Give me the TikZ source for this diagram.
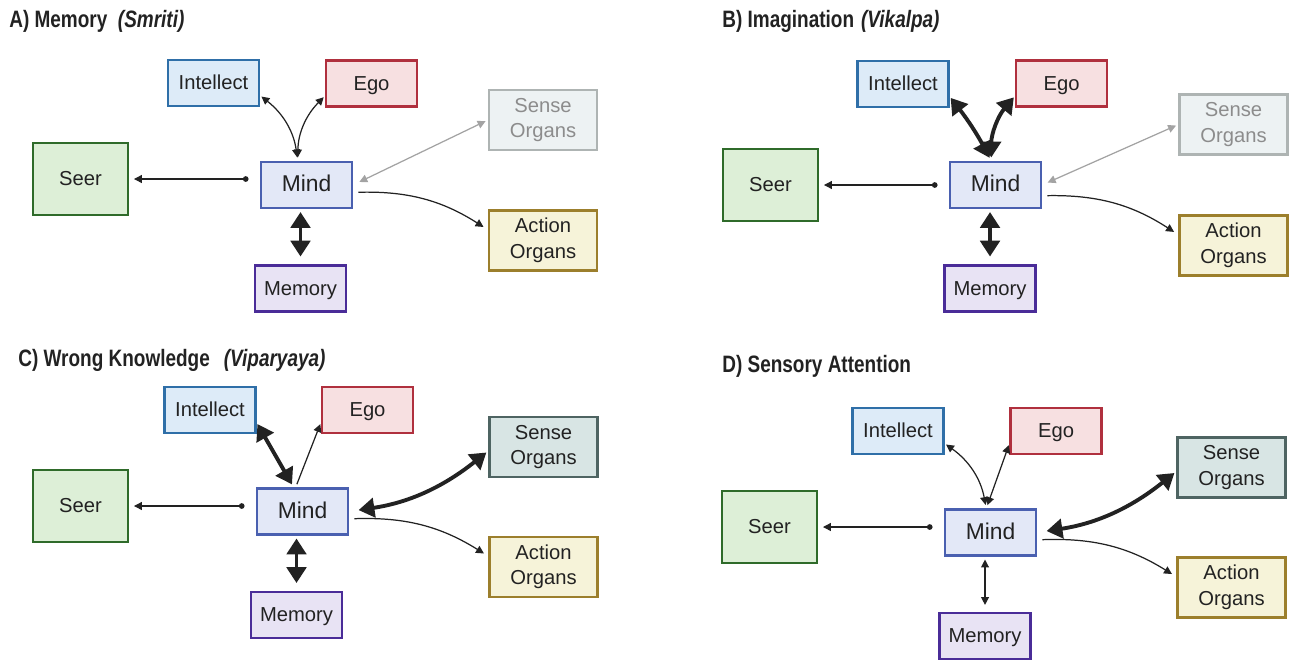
\documentclass[tikz,border=0pt]{standalone}
\usepackage{fontspec}
\setmainfont{Liberation Sans}
\newfontfamily\headfont[FakeStretch=0.8]{Liberation Sans}
\usetikzlibrary{arrows.meta}

\definecolor{ink}{HTML}{222222}
\definecolor{intline}{HTML}{2F6FA8}
\definecolor{intfill}{HTML}{DDEBF8}
\definecolor{egoline}{HTML}{B0303E}
\definecolor{egofill}{HTML}{F7E0E1}
\definecolor{seerline}{HTML}{2F6B2A}
\definecolor{seerfill}{HTML}{DDEFD7}
\definecolor{mindline}{HTML}{4A60B0}
\definecolor{mindfill}{HTML}{E3E8F7}
\definecolor{memline}{HTML}{4A2C98}
\definecolor{memfill}{HTML}{E8E3F4}
\definecolor{actline}{HTML}{9C7F2C}
\definecolor{actfill}{HTML}{F6F3D9}
\definecolor{snsline}{HTML}{4E6462}
\definecolor{snsfill}{HTML}{D8E5E4}
\definecolor{fadeline}{HTML}{AEB4B3}
\definecolor{fadefill}{HTML}{EDF2F3}
\definecolor{fadetext}{HTML}{8C8C8C}
\definecolor{fadearrow}{HTML}{A3A3A3}

\tikzset{
  sm/.tip={Triangle[length=4.5pt,width=4.5pt]},
  lg/.tip={Triangle[length=9pt,width=11pt]},
  dt/.tip={Circle[length=3.2pt]},
  box/.style={rectangle, draw, line width=1.2pt, inner sep=0pt, text=ink, font=\fontsize{11.5}{14.5}\selectfont},
  one/.style={box, minimum width=1.82cm, minimum height=0.92cm, text height=9pt, text depth=1.1pt},
  two/.style={box, minimum width=2.16cm, minimum height=1.2cm, align=center},
  intbox/.style={one, draw=intline, fill=intfill},
  egobox/.style={one, draw=egoline, fill=egofill},
  mindbox/.style={one, draw=mindline, fill=mindfill, font=\fontsize{13}{15}\selectfont},
  membox/.style={one, draw=memline, fill=memfill},
  seerbox/.style={box, draw=seerline, fill=seerfill, minimum width=1.9cm, minimum height=1.44cm},
  actbox/.style={two, draw=actline, fill=actfill},
  snsbox/.style={two, draw=snsline, fill=snsfill},
  fadebox/.style={two, draw=fadeline, fill=fadefill, text=fadetext},
  fineline/.style={draw=ink, line width=0.7pt},
  boldline/.style={draw=ink, line width=2.2pt},
  greyline/.style={draw=fadearrow, line width=0.7pt},
  headline/.style={anchor=west, inner sep=0pt, text=ink, font=\headfont\fontsize{13.5}{16}\selectfont\bfseries}
}

\begin{document}
\begin{tikzpicture}[x=0.02cm, y=-0.02cm]

    \fill[white] (0,0) rectangle (1293,663);
    \useasboundingbox (0,0) rectangle (1293,663);

    \node[headline] (Ahead) at (9,21) {A) Memory\hspace{6pt}\textit{(Smriti)}};
    \node[intbox] (Aint) at (213.5,83) {Intellect};
    \node[egobox] (Aego) at (371.5,83.5) {Ego};
    \node[fadebox] (Asns) at (543,120) {Sense\\Organs};
    \node[seerbox] (Aseer) at (80.5,179) {Seer};
    \node[mindbox] (Amind) at (306.5,185) {Mind};
    \node[actbox] (Aact) at (543,240.5) {Action\\Organs};
    \node[membox] (Amem) at (300.5,288.5) {Memory};
    \draw[fineline, dt-sm, shorten <=6.5pt, shorten >=2.8pt] (Amind.west |- Aseer) -- (Aseer);
    \draw[fineline, sm-sm, shorten <=2pt, shorten >=1pt] (Amind.110) to[bend right=22] (Aint.-15);
    \draw[fineline, sm-sm, shorten <=2pt, shorten >=1pt] (Amind.110) to[bend left=22] (Aego.195);
    \draw[greyline, sm-sm, shorten <=4pt, shorten >=1.5pt] (Amind.east) -- (Asns.west);
    \draw[fineline, -sm, shorten <=3pt, shorten >=3pt] (Amind.-9) to[bend left=17] (Aact.169);
    \draw[boldline, lg-lg, shorten <=1.7pt, shorten >=4.5pt] (Amind.south -| Amem) -- (Amem.north);

    \node[headline] (Bhead) at (722,21) {B) Imagination\hspace{4pt}\textit{(Vikalpa)}};
    \node[intbox] (Bint) at (903,84) {Intellect};
    \node[egobox] (Bego) at (1061.5,83.5) {Ego};
    \node[fadebox] (Bsns) at (1233.5,124.5) {Sense\\Organs};
    \node[seerbox] (Bseer) at (770.5,185) {Seer};
    \node[mindbox] (Bmind) at (995.5,185) {Mind};
    \node[actbox] (Bact) at (1233.5,245.5) {Action\\Organs};
    \node[membox] (Bmem) at (990,288.5) {Memory};
    \draw[fineline, dt-sm, shorten <=6.5pt, shorten >=2.8pt] (Bmind.west |- Bseer) -- (Bseer);
    \draw[boldline, lg-lg, shorten <=2pt, shorten >=1pt] (Bmind.100) to[bend right=5] (Bint.-15);
    \draw[boldline, lg-lg, shorten <=2pt, shorten >=1pt] (Bmind.100) to[bend left=20] (Bego.195);
    \draw[greyline, sm-sm, shorten <=3.5pt, shorten >=1.5pt] (Bmind.east) -- (Bsns.west);
    \draw[fineline, -sm, shorten <=3pt, shorten >=3pt] (Bmind.-13) to[bend left=17] (Bact.169);
    \draw[boldline, lg-lg, shorten <=1.7pt, shorten >=4.5pt] (Bmind.south -| Bmem) -- (Bmem.north);

    \node[headline] (Chead) at (18,360) {C) Wrong Knowledge\hspace{8pt}\textit{(Viparyaya)}};
    \node[intbox] (Cint) at (210,410) {Intellect};
    \node[egobox] (Cego) at (367.5,410) {Ego};
    \node[snsbox] (Csns) at (543.5,447) {Sense\\Organs};
    \node[seerbox] (Cseer) at (80.5,506) {Seer};
    \node[mindbox] (Cmind) at (302.5,511.5) {Mind};
    \node[actbox] (Cact) at (543.5,567) {Action\\Organs};
    \node[membox] (Cmem) at (296.5,615) {Memory};
    \draw[fineline, dt-sm, shorten <=6.5pt, shorten >=2.8pt] (Cmind.west |- Cseer) -- (Cseer);
    \draw[boldline, lg-lg, shorten <=2pt, shorten >=1pt] (Cmind.110) -- (Cint.-15);
    \draw[fineline, -sm, shorten <=2pt, shorten >=1pt] (Cmind.106) -- (Cego.195);
    \draw[boldline, lg-lg, shorten <=5.5pt, shorten >=1.5pt] (Cmind.east) to[bend right=15] (Csns.184);
    \draw[fineline, -sm, shorten <=3pt, shorten >=3pt] (Cmind.-9) to[bend left=17] (Cact.169);
    \draw[boldline, lg-lg, shorten <=1.7pt, shorten >=4.5pt] (Cmind.south -| Cmem) -- (Cmem.north);

    \node[headline] (Dhead) at (722,366) {D) Sensory Attention};
    \node[intbox] (Dint) at (898,431) {Intellect};
    \node[egobox] (Dego) at (1056,431) {Ego};
    \node[snsbox] (Dsns) at (1231.5,467.5) {Sense\\Organs};
    \node[seerbox] (Dseer) at (769.5,527) {Seer};
    \node[mindbox] (Dmind) at (990.5,532.5) {Mind};
    \node[actbox] (Dact) at (1231.5,587.5) {Action\\Organs};
    \node[membox] (Dmem) at (985,636) {Memory};
    \draw[fineline, dt-sm, shorten <=6.5pt, shorten >=2.8pt] (Dmind.west |- Dseer) -- (Dseer);
    \draw[fineline, sm-sm, shorten <=2pt, shorten >=1pt] (Dmind.100) to[bend right=22] (Dint.-15);
    \draw[fineline, sm-sm, shorten <=2pt, shorten >=1pt] (Dmind.100) -- (Dego.195);
    \draw[boldline, lg-lg, shorten <=5.5pt, shorten >=1.5pt] (Dmind.east) to[bend right=15] (Dsns.184);
    \draw[fineline, -sm, shorten <=3pt, shorten >=3pt] (Dmind.-9) to[bend left=17] (Dact.169);
    \draw[fineline, sm-sm, shorten <=1.7pt, shorten >=4pt] (Dmind.south -| Dmem) -- (Dmem.north);

\end{tikzpicture}
\end{document}
